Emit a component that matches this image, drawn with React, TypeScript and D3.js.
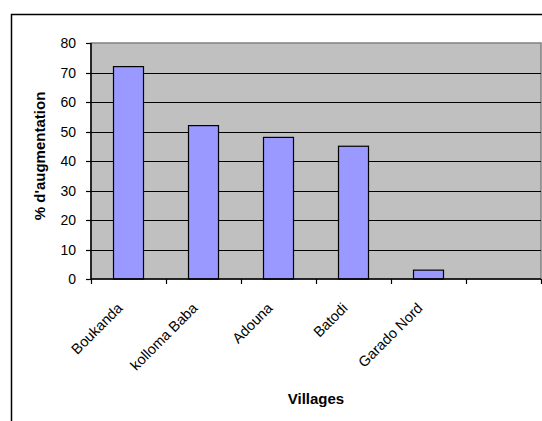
import React, { useRef, useEffect } from "react";
import * as d3 from "d3";

const villages = ["Boukanda", "kolloma Baba", "Adouna", "Batodi", "Garado Nord", ""];
const augmentation = [72, 52, 48, 45, 3, null];
const yTicks = [0, 10, 20, 30, 40, 50, 60, 70, 80];

const W = 542;
const H = 421;

export default function App() {
  const svgRef = useRef<SVGSVGElement>(null);

  useEffect(() => {
    const svg = d3.select(svgRef.current);
    svg.selectAll("*").remove();

    const font = "'Liberation Sans', Arial, sans-serif";
    const plot = { left: 91, top: 43, right: 541, bottom: 279 };

    // outer chart frame (runs off the right/bottom of the picture)
    svg
      .append("rect")
      .attr("x", 11.5)
      .attr("y", 14.5)
      .attr("width", 560)
      .attr("height", 440)
      .attr("fill", "#fff")
      .attr("stroke", "#000")
      .attr("stroke-width", 1.5);

    const x = d3
      .scaleBand()
      .domain(villages.map((d, i) => String(i)))
      .range([plot.left, plot.right])
      .paddingInner(0.6)
      .paddingOuter(0.3);

    const y = d3.scaleLinear().domain([0, 80]).range([plot.bottom, plot.top]);

    // plot area
    svg
      .append("rect")
      .attr("x", plot.left)
      .attr("y", plot.top)
      .attr("width", plot.right - plot.left)
      .attr("height", plot.bottom - plot.top)
      .attr("fill", "#c0c0c0")
      .attr("stroke", "#808080")
      .attr("stroke-width", 1.5);

    // gridlines
    svg
      .append("g")
      .selectAll("line")
      .data(yTicks.filter((t) => t > 0 && t < 80))
      .enter()
      .append("line")
      .attr("x1", plot.left)
      .attr("x2", plot.right)
      .attr("y1", (d) => Math.round(y(d)) + 0.5)
      .attr("y2", (d) => Math.round(y(d)) + 0.5)
      .attr("stroke", "#000")
      .attr("stroke-width", 1.2);

    // bars
    svg
      .append("g")
      .selectAll("rect")
      .data(augmentation.map((v, i) => ({ v, i })).filter((d) => d.v != null))
      .enter()
      .append("rect")
      .attr("x", (d) => x(String(d.i))!)
      .attr("y", (d) => y(d.v as number))
      .attr("width", x.bandwidth())
      .attr("height", (d) => plot.bottom - y(d.v as number))
      .attr("fill", "#9999ff")
      .attr("stroke", "#000")
      .attr("stroke-width", 1.2);

    // y axis
    const yAxis = svg.append("g");
    yAxis
      .append("line")
      .attr("x1", plot.left)
      .attr("x2", plot.left)
      .attr("y1", plot.top)
      .attr("y2", plot.bottom)
      .attr("stroke", "#000")
      .attr("stroke-width", 1.5);
    const yt = yAxis
      .selectAll("g.tick")
      .data(yTicks)
      .enter()
      .append("g")
      .attr("class", "tick")
      .attr("transform", (d) => `translate(0,${Math.round(y(d)) + 0.5})`);
    yt.append("line")
      .attr("x1", plot.left - 5)
      .attr("x2", plot.left)
      .attr("stroke", "#000")
      .attr("stroke-width", 1.2);
    yt.append("text")
      .attr("x", plot.left - 15)
      .attr("dy", "0.35em")
      .attr("text-anchor", "end")
      .attr("font-family", font)
      .attr("font-size", 14)
      .attr("fill", "#000")
      .text((d) => d);

    // x axis
    const xAxis = svg.append("g");
    xAxis
      .append("line")
      .attr("x1", plot.left)
      .attr("x2", plot.right)
      .attr("y1", plot.bottom)
      .attr("y2", plot.bottom)
      .attr("stroke", "#000")
      .attr("stroke-width", 1.5);
    const step = x.step();
    const bounds = d3.range(villages.length + 1).map((i) => plot.left + i * step);
    xAxis
      .selectAll("line.tick")
      .data(bounds)
      .enter()
      .append("line")
      .attr("class", "tick")
      .attr("x1", (d) => Math.round(d) + 0.5)
      .attr("x2", (d) => Math.round(d) + 0.5)
      .attr("y1", plot.bottom)
      .attr("y2", plot.bottom + 5)
      .attr("stroke", "#000")
      .attr("stroke-width", 1.2);
    xAxis
      .selectAll("text")
      .data(villages)
      .enter()
      .append("text")
      .attr("transform", (d, i) => {
        const cx = x(String(i))! + x.bandwidth() / 2 - 5;
        return `translate(${cx},${plot.bottom + 30}) rotate(-45)`;
      })
      .attr("text-anchor", "end")
      .attr("font-family", font)
      .attr("font-size", 14.5)
      .attr("fill", "#000")
      .text((d) => d);

    // axis titles
    svg
      .append("text")
      .attr("x", (plot.left + plot.right) / 2)
      .attr("y", 404)
      .attr("text-anchor", "middle")
      .attr("font-family", font)
      .attr("font-size", 15)
      .attr("font-weight", "bold")
      .attr("fill", "#000")
      .text("Villages");

    svg
      .append("text")
      .attr("transform", `translate(45,156) rotate(-90)`)
      .attr("text-anchor", "middle")
      .attr("font-family", font)
      .attr("font-size", 15)
      .attr("font-weight", "bold")
      .attr("fill", "#000")
      .text("% d'augmentation");
  }, []);

  return (
    <svg
      ref={svgRef}
      width={W}
      height={H}
      style={{ position: "absolute", left: 0, top: 0, background: "#fff" }}
    />
  );
}
